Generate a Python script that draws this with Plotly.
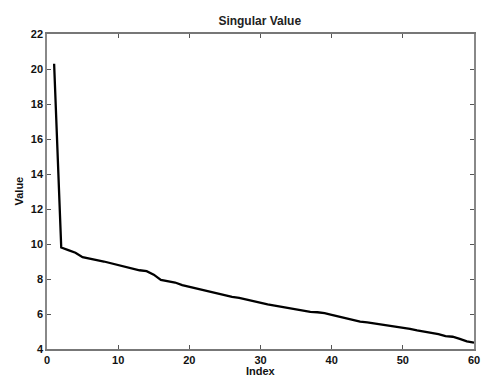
import plotly.graph_objects as go

index = list(range(1, 61))
values = [20.3, 9.8, 9.65, 9.5, 9.25, 9.15, 9.08, 9.0, 8.9, 8.8,
          8.72, 8.6, 8.5, 8.45, 8.25, 7.95, 7.88, 7.8, 7.65, 7.55,
          7.45, 7.35, 7.28, 7.15, 7.05, 6.98, 6.92, 6.82, 6.75, 6.65,
          6.55, 6.48, 6.4, 6.32, 6.25, 6.18, 6.12, 6.1, 6.05, 5.95,
          5.86, 5.78, 5.68, 5.56, 5.52, 5.46, 5.41, 5.36, 5.3, 5.25,
          5.15, 5.06, 4.99, 4.93, 4.85, 4.74, 4.70, 4.58, 4.44, 4.36]
x_ticks = [0, 10, 20, 30, 40, 50, 60]
y_ticks = [4, 6, 8, 10, 12, 14, 16, 18, 20, 22]

fig = go.Figure()
fig.add_trace(go.Scatter(x=index, y=values, mode="lines",
                         line=dict(color="black", width=2.3), showlegend=False))

font = dict(family="Liberation Sans, Arial, sans-serif", size=11, color="#111111")
fig.update_layout(
    width=481, height=378,
    margin=dict(l=47, r=7, t=34, b=29),
    paper_bgcolor="white", plot_bgcolor="white",
    title=dict(text="<b>Singular Value</b>", x=0.54, xanchor="center", y=0.945, yanchor="middle",
               font=dict(family="Liberation Sans, Arial, sans-serif", size=12, color="#222222")),
    xaxis=dict(range=[0, 60], tickvals=x_ticks, ticktext=[f"<b>{v}</b>" for v in x_ticks],
               ticks="inside", ticklen=4, tickcolor="#555555", showgrid=False, zeroline=False,
               showline=True, linecolor="#777777", linewidth=1.5, mirror="ticks",
               tickfont=font, automargin=False),
    yaxis=dict(range=[4, 22], tickvals=y_ticks, ticktext=[f"<b>{v}</b>" for v in y_ticks],
               ticks="inside", ticklen=4, tickcolor="#555555", showgrid=False, zeroline=False,
               showline=True, linecolor="#888888", linewidth=1.5, mirror="ticks",
               tickfont=font, automargin=False),
    annotations=[
        dict(text="<b>Index</b>", xref="paper", yref="paper", x=0.5, y=0,
             xanchor="center", yanchor="middle", yshift=-22, showarrow=False, font=font),
        dict(text="<b>Value</b>", xref="paper", yref="paper", x=0, y=0.5,
             xanchor="center", yanchor="middle", xshift=-29, textangle=-90,
             showarrow=False, font=font),
    ],
)
fig.write_html("out.html")
